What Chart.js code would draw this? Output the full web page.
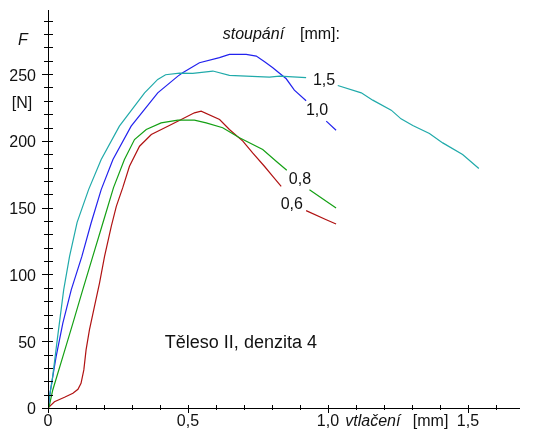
<!DOCTYPE html>
<html><head><meta charset="utf-8">
<script src="https://cdn.jsdelivr.net/npm/chart.js@4/dist/chart.umd.min.js"></script>
<style>html,body{margin:0;padding:0;background:#fff;}canvas{display:block;}</style>
</head><body>
<canvas id="c" width="536" height="430"></canvas>
<script>
// stoupání (pitch) labels
const pitchLabels = ['1,5', '1,0', '0,8', '0,6'];

// pitch 1,5 mm (cyan)
const x15 = [0, 0.005, 0.014, 0.033, 0.056, 0.077, 0.104, 0.145, 0.19, 0.255, 0.345, 0.392, 0.42, 0.47, 0.517, 0.589, 0.648, 0.708, 0.791, 0.827, 0.922, null, 1.035, 1.119, 1.16, 1.226, 1.261, 1.303, 1.3625, 1.41, 1.481, 1.539];
const y15 = [0, 8.5, 19, 51, 88.5, 113.5, 139, 163.5, 186, 211, 236, 246, 249.5, 250.7, 250.5, 252.3, 249, 248.5, 247.8, 248.5, 247.3, null, 241.5, 236, 230.5, 223, 216.5, 211.5, 205.5, 198.5, 189.8, 179.3];

// pitch 1,0 mm (blue)
const x10 = [0, 0.009, 0.029, 0.053, 0.083, 0.121, 0.154, 0.19, 0.232, 0.297, 0.392, 0.464, 0.481, 0.541, 0.6125, 0.648, 0.708, 0.744, 0.775, 0.803, 0.851, 0.88, 0.922, null, 0.994, 1.029];
const y10 = [0, 13.5, 38.5, 63.5, 88.5, 113.5, 138.5, 163.5, 186, 211, 236, 248.5, 251, 258.5, 262.3, 264.8, 264.8, 263.5, 259, 254.8, 246.5, 238, 230, null, 214.8, 208];

// pitch 0,8 mm (green)
const x08 = [0, 0.004, 0.017, 0.053, 0.089, 0.124, 0.16, 0.196, 0.234, 0.273, 0.309, 0.351, 0.404, 0.464, 0.523, 0.565, 0.624, 0.684, 0.767, 0.815, 0.853, null, 0.934, 1.029];
const y08 = [0, 1, 13.5, 38.5, 63.5, 88.5, 113.5, 138.5, 165, 186, 201, 208.5, 213.5, 215.5, 215.5, 213.5, 209.8, 202.3, 193.5, 184.8, 178, null, 163.5, 149.8];

// pitch 0,6 mm (red)
const x06 = [0, 0.023, 0.059, 0.089, 0.107, 0.118, 0.128, 0.136, 0.148, 0.166, 0.184, 0.202, 0.226, 0.244, 0.267, 0.291, 0.327, 0.369, 0.428, 0.476, 0.523, 0.547, 0.613, 0.648, 0.696, 0.731, 0.773, 0.803, 0.833, null, 0.922, 0.994, 1.029];
const y06 = [0, 4.7, 8, 11, 14, 18.5, 28.5, 43.5, 58.5, 76, 93.5, 113.5, 136, 151, 165, 181, 196, 204.8, 211, 216, 221, 222.3, 216, 208.5, 199.8, 191, 181, 173.5, 166, null, 147.8, 141, 137.8];

// tick labels
const xTickValues = [0, 0.5, 1.0, 1.5];
const xTickLabels = ['0', '0,5', '1,0', '1,5'];
const yTickValues = [0, 50, 100, 150, 200, 250];
const yTickLabels = ['0', '50', '100', '150', '200', '250'];

const FONT = "'Liberation Sans', Arial, sans-serif";

function pts(xs, ys) {
  return xs.map((x, i) => ({ x: x, y: ys[i] }));
}

function ds(label, xs, ys, color) {
  return { label, data: pts(xs, ys), borderColor: color, backgroundColor: color, borderWidth: 1.2,
    showLine: true, pointRadius: 0, pointHoverRadius: 0, spanGaps: false, tension: 0, fill: false };
}

const axisPlugin = {
  id: 'axisPlugin',
  afterDraw(chart) {
    const ctx = chart.ctx;
    const { left, right, top, bottom } = chart.chartArea;
    const xs = chart.scales.x, ys = chart.scales.y;
    ctx.save();
    ctx.strokeStyle = '#000';
    ctx.lineWidth = 1;
    ctx.beginPath();
    ctx.moveTo(left + 0.5, top);
    ctx.lineTo(left + 0.5, bottom + 1);
    ctx.moveTo(left, bottom + 0.5);
    ctx.lineTo(right, bottom + 0.5);
    ys.ticks.forEach(t => {
      const y = Math.round(ys.getPixelForValue(t.value)) + 0.5;
      const major = Math.abs(t.value % 50) < 1e-6;
      ctx.moveTo(left - (major ? 6 : 4), y);
      ctx.lineTo(left + 5, y);
    });
    xs.ticks.forEach(t => {
      const x = Math.round(xs.getPixelForValue(t.value)) + 0.5;
      const major = xTickValues.some(v => Math.abs(v - t.value) < 1e-6);
      ctx.moveTo(x, bottom - 3);
      ctx.lineTo(x, bottom + (major ? 5 : 2));
    });
    ctx.stroke();

    ctx.fillStyle = '#111';
    ctx.textBaseline = 'middle';
    const X = v => xs.getPixelForValue(v), Y = v => ys.getPixelForValue(v);
    // tick labels
    ctx.font = '16px ' + FONT;
    ctx.textAlign = 'right';
    yTickValues.forEach((v, i) => ctx.fillText(yTickLabels[i], left - 12, Y(v) + 2));
    ctx.textAlign = 'center';
    xTickValues.forEach((v, i) => ctx.fillText(xTickLabels[i], X(v), bottom + 14));
    // axis titles
    ctx.font = 'italic 16px ' + FONT;
    ctx.fillText('F', left - 25, 41);
    ctx.font = '16px ' + FONT;
    ctx.fillText('[N]', left - 26, 104);
    ctx.textAlign = 'left';
    ctx.font = 'italic 16px ' + FONT;
    ctx.fillText('vtlačení', X(1.062), bottom + 14);
    ctx.font = '16px ' + FONT;
    ctx.fillText('[mm]', X(1.303), bottom + 14);
    // legend title
    ctx.font = 'italic 16px ' + FONT;
    ctx.fillText('stoupání', X(0.624), Y(279.5));
    ctx.font = '16px ' + FONT;
    ctx.fillText('[mm]:', X(0.9), Y(279.5));
    // curve labels
    ctx.textAlign = 'center';
    const lp = [[0.986, 245.2], [0.961, 222.7], [0.9, 171.2], [0.871, 152.4]];
    pitchLabels.forEach((s, i) => ctx.fillText(s, X(lp[i][0]), Y(lp[i][1])));
    // caption
    ctx.font = '18px ' + FONT;
    ctx.fillText('Těleso II, denzita 4', X(0.689), Y(48.8));
    ctx.restore();
  }
};

new Chart(document.getElementById('c'), {
  type: 'scatter',
  data: {
    datasets: [
      ds(pitchLabels[0], x15, y15, '#20aaaa'),
      ds(pitchLabels[1], x10, y10, '#2222ee'),
      ds(pitchLabels[2], x08, y08, '#14a014'),
      ds(pitchLabels[3], x06, y06, '#b01212')
    ]
  },
  options: {
    responsive: false,
    animation: false,
    layout: { padding: { top: 10, right: 16, left: 0, bottom: 0 } },
    plugins: { legend: { display: false }, tooltip: { enabled: false } },
    scales: {
      x: {
        type: 'linear', min: 0, max: 1.686,
        grid: { display: false, drawTicks: false },
        border: { display: false },
        ticks: { display: false, stepSize: 0.1, includeBounds: false, autoSkip: false, maxRotation: 0 },
        afterFit: s => { s.height = 22; s.paddingLeft = 0; s.paddingRight = 0; }
      },
      y: {
        type: 'linear', min: 0, max: 298,
        grid: { display: false, drawTicks: false },
        border: { display: false },
        ticks: { display: false, stepSize: 10, includeBounds: false, autoSkip: false },
        afterFit: s => { s.width = 48; s.paddingTop = 0; s.paddingBottom = 0; }
      }
    }
  },
  plugins: [axisPlugin]
});
</script>
</body></html>
